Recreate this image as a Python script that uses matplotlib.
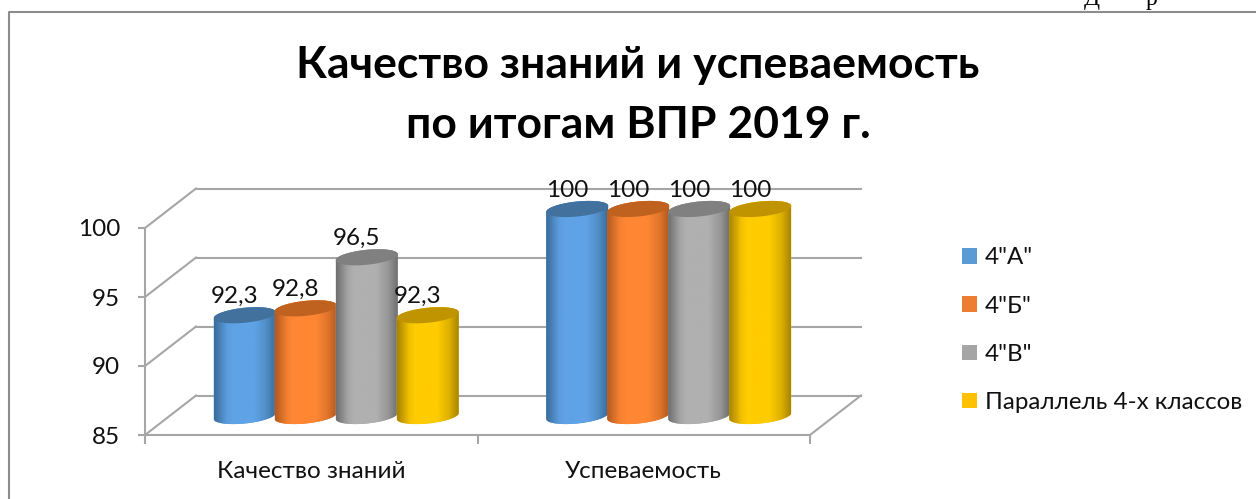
import numpy as np
import matplotlib
matplotlib.use("Agg")
import matplotlib.pyplot as plt
from matplotlib.patches import Patch, PathPatch
from matplotlib.path import Path
from matplotlib.colors import LinearSegmentedColormap
from matplotlib.lines import Line2D

plt.rcParams['font.family'] = ['Lato', 'Open Sans', 'DejaVu Sans']

# donnees
categories = ["Качество знаний", "Успеваемость"]
series_names = ['4"А"', '4"Б"', '4"В"', 'Параллель 4-х классов']
values_a = [92.3, 100]
values_b = [92.8, 100]
values_v = [96.5, 100]
values_par = [92.3, 100]
y_ticks = [85, 90, 95, 100]
title_text = "Качество знаний и успеваемость\nпо итогам ВПР 2019 г."

all_values = [values_a, values_b, values_v, values_par]
flat_colors = ["#5b9bd5", "#ed7d31", "#a5a5a5", "#ffc000"]
bright_colors = ["#5fa3e6", "#ff8733", "#b0b0b0", "#ffcc00"]
dark_colors = ["#3b6c99", "#b35a20", "#6f6f6f", "#a88400"]
top_colors = ["#41719c", "#c0621f", "#808080", "#c09400"]
grid_col = "#a6a6a6"

W, H = 1256, 499
fig = plt.figure(figsize=(W / 100, H / 100), dpi=100)
ax = fig.add_axes([145 / W, 1 - 435 / H, 665 / W, 207 / H])
ax.set_xlim(-0.5, 1.5)
ax.set_ylim(85, 100)
ax.patch.set_visible(False)

px_x = 665 / 2  # pixels par categorie
px_y = 207 / 15  # pixels par unite

# profondeur du "3D" (mur du fond et plan des barres)
back_dx, back_dy = 51 / px_x, 39.5 / px_y
bar_dx, bar_dy = 25 / px_x, 19 / px_y

# mur du fond, cote gauche, sol
for t in y_ticks:
    ax.plot([-0.5, -0.5 + back_dx], [t, t + back_dy], color=grid_col, lw=1.5, clip_on=False, zorder=1)
    ax.plot([-0.5 + back_dx, 1.5 + back_dx], [t + back_dy, t + back_dy], color=grid_col, lw=1.5, clip_on=False, zorder=1)
ax.plot([1.5, 1.5 + back_dx], [85, 85 + back_dy], color=grid_col, lw=1.5, clip_on=False, zorder=1)

for s in ["top", "right"]:
    ax.spines[s].set_visible(False)
for s in ["left", "bottom"]:
    ax.spines[s].set_color(grid_col)
    ax.spines[s].set_linewidth(1.5)

ax.set_yticks(y_ticks)
ax.set_xticks([0, 1])
ax.set_xticklabels(categories)
ax.set_xticks([-0.5, 0.5, 1.5], minor=True)
ax.tick_params(axis="y", length=5, width=1.5, color=grid_col, labelsize=17.5, pad=13, labelcolor="#111111")
ax.tick_params(axis="x", which="major", length=0, labelsize=17.5, pad=19, labelcolor="#111111")
ax.tick_params(axis="x", which="minor", length=6.5, width=1.5, color=grid_col)

# cylindres
spacing = 61 / px_x
half_w = 31 / px_x
ell_h = 7.5 / px_y
shear = 3 / px_y
prof_x = [0, 0.06, 0.2, 0.3, 0.65, 0.85, 1]
prof_t = [0, 0.25, 0.85, 1, 1, 0.6, 0]
t_low = np.linspace(np.pi, 2 * np.pi, 40)
t_up = np.linspace(0, np.pi, 40)

for i, vals in enumerate(all_values):
    cmap = LinearSegmentedColormap.from_list("c%d" % i, [dark_colors[i], bright_colors[i]])
    for j, v in enumerate(vals):
        xc = j + (i - 1.5) * spacing + bar_dx
        y0 = 85 + bar_dy
        y1 = v + bar_dy
        # contour : moitie basse en bas, moitie haute en haut
        xs = np.r_[xc + half_w * np.cos(t_low), xc + half_w * np.cos(t_up)]
        ys = np.r_[y0 + ell_h * np.sin(t_low) + shear * np.cos(t_low),
                   y1 + ell_h * np.sin(t_up) + shear * np.cos(t_up)]
        body = PathPatch(Path(np.c_[xs, ys]), fc=flat_colors[i], ec="none", clip_on=False, zorder=3 + i)
        ax.add_patch(body)
        grad = np.interp(np.linspace(0, 1, 128), prof_x, prof_t).reshape(1, -1)
        im = ax.imshow(grad, cmap=cmap, vmin=0, vmax=1, aspect="auto", origin="lower",
                       extent=[xc - half_w, xc + half_w, y0 - 2 * ell_h, y1 + 2 * ell_h],
                       zorder=3 + i + 0.1, interpolation="bilinear")
        im.set_clip_box(fig.bbox)
        im.set_clip_path(body)
        # dessus du cylindre
        t = np.linspace(0, 2 * np.pi, 80)
        ax.fill(xc + half_w * np.cos(t), y1 + ell_h * np.sin(t) + shear * np.cos(t),
                color=top_colors[i], lw=0, clip_on=False, zorder=3 + i + 0.2)
ax.set_xlim(-0.5, 1.5)
ax.set_ylim(85, 100)

# etiquettes des valeurs
for i, vals in enumerate(all_values):
    for j, v in enumerate(vals):
        xc = j + (i - 1.5) * spacing + bar_dx
        lab = ("%g" % v).replace(".", ",")
        ax.annotate(lab, (xc, v + bar_dy), xytext=(-7.5, 13.5), textcoords="offset points",
                    ha="center", va="center", fontsize=17.5, color="#111111", zorder=10, annotation_clip=False)

fig.text(638 / W, 1 - 95 / H, title_text, ha="center", va="center", fontsize=32,
         fontweight="bold", color="black", linespacing=1.6)

handles = [Patch(fc=c, ec="none", label=n) for c, n in zip(flat_colors, series_names)]
fig.legend(handles=handles, loc="upper left", bbox_to_anchor=(954.75 / W, 1 - 240 / H), frameon=False,
           fontsize=17.4, handlelength=0.62, handleheight=0.62, handletextpad=0.33,
           labelspacing=1.13, labelcolor="#111111", borderpad=0.3, borderaxespad=0)

# cadre autour du graphique
fig.add_artist(Line2D([9 / W, 9 / W, 1], [0, 1 - 12 / H, 1 - 12 / H], color="#8c8c8c", lw=1.5))

# texte de la page, coupe en haut de l'image
fig.text(1092 / W, 1 - 5 / H, "Д", family="Liberation Serif", fontsize=17, ha="center", va="baseline")
fig.text(1152 / W, 1 - 5 / H, "р", family="Liberation Serif", fontsize=17, ha="center", va="baseline")

fig.savefig("out.png", dpi=100)
